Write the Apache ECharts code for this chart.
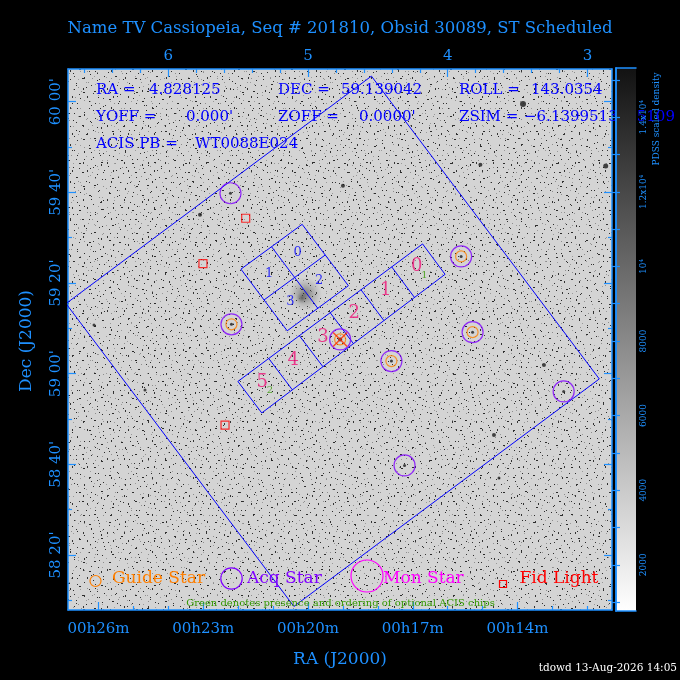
<!DOCTYPE html>
<html>
<head>
<meta charset="utf-8">
<script src="https://cdn.jsdelivr.net/npm/echarts@6/dist/echarts.min.js"></script>
<style>
html, body { margin: 0; padding: 0; background: #000; }
#chart { width: 680px; height: 680px; }
</style>
</head>
<body>
<div id="chart"></div>
<script>
// axis ranges (RA in degrees, Dec in degrees)
const RA_MIN = 2.824, RA_MAX = 6.718;
const DEC_MIN = 58.131, DEC_MAX = 60.12;
const CB_MIN = 760, CB_MAX = 15320;

// tick values and labels
const raDegTicks = [6, 5, 4, 3];
const raDegLabels = ['6', '5', '4', '3'];
const raDegMinor = [6.6, 6.4, 6.2, 5.8, 5.6, 5.4, 5.2, 4.8, 4.6, 4.4, 4.2, 3.8, 3.6, 3.4, 3.2];
const raHmsTicks = [6.5, 5.75, 5.0, 4.25, 3.5];
const raHmsLabels = ['00h26m', '00h23m', '00h20m', '00h17m', '00h14m'];
const raHmsMinor = [6.25, 6.0, 5.5, 5.25, 4.75, 4.5, 4.0, 3.75, 3.25, 3.0];
const decTicks = [60, 59.6667, 59.3333, 59, 58.6667, 58.3333];
const decLabels = ["60 00'", "59 40'", "59 20'", "59 00'", "58 40'", "58 20'"];
const decMinor = [59.8333, 59.5, 59.1667, 58.8333, 58.5, 58.1667];
const cbLabelValues = [2000, 4000, 6000, 8000, 10000, 12000, 14000];
const cbLabels = ['2000', '4000', '6000', '8000', '10\u2074', '1.2x10\u2074', '1.4x10\u2074'];
const cbTicks = [1000, 2000, 3000, 4000, 5000, 6000, 7000, 8000, 9000, 10000, 11000, 12000, 13000, 14000, 15000];

// field outlines [ra, dec]
const fovOutline = [[4.546, 60.0938], [2.915, 58.9805], [5.101, 58.1441], [6.732, 59.2574], [4.546, 60.0938]];
const acisIOutline = [[5.042, 59.5489], [4.711, 59.3232], [5.149, 59.1574], [5.480, 59.3842], [5.042, 59.5489]];
const acisIDividers = [
    [[4.877, 59.4360], [5.315, 59.2708]],
    [[5.261, 59.4665], [4.930, 59.2403]]
];
const acisSOutline = [[5.502, 58.9713], [4.180, 59.4768], [4.019, 59.3651], [5.331, 58.8555], [5.502, 58.9713]];
const acisSDividers = [
    [[5.281, 59.0555], [5.112, 58.9404]],
    [[5.062, 59.1397], [4.893, 59.0254]],
    [[4.841, 59.2239], [4.675, 59.1103]],
    [[4.621, 59.3085], [4.457, 59.1952]],
    [[4.401, 59.3926], [4.238, 59.2801]]
];

// chip labels
const acisINames = ['0', '1', '2', '3'];
const acisIPos = [[5.075, 59.4467], [5.279, 59.3676], [4.921, 59.3426], [5.126, 59.2640]];
const acisSNames = ['0', '1', '2', '3', '4', '5'];
const acisSPos = [[4.222, 59.3930], [4.444, 59.3074], [4.669, 59.2217], [4.893, 59.1335], [5.105, 59.0500], [5.327, 58.9680]];
const optNames = ['1', '2'];
const optPos = [[4.167, 59.3625], [5.272, 58.9371]];

// stars
const guideStars = [[3.904, 59.4309], [5.548, 59.1813], [3.822, 59.1526], [4.403, 59.0460], [4.770, 59.1257]];
const acqStars = [[3.904, 59.4309], [5.548, 59.1813], [3.822, 59.1526], [4.403, 59.0460], [4.770, 59.1257],
    [5.555, 59.6632], [3.170, 58.9346], [4.309, 58.6625]];
const fidLights = [[5.446, 59.5713], [5.752, 59.4044], [5.594, 58.8110]];
const targetPos = [[4.770, 59.1257]];
// field stars [ra, dec, size]
const fieldStars = [[3.461, 59.9912, 6], [2.869, 59.7632, 5], [4.750, 59.6908, 4], [3.766, 59.7684, 4],
    [5.773, 59.5846, 4], [6.532, 59.1787, 3], [6.167, 58.9397, 3], [3.669, 58.7743, 4],
    [3.311, 59.0316, 4], [3.633, 58.6162, 3], [3.904, 59.4309, 3], [5.548, 59.1813, 3],
    [3.822, 59.1526, 3], [4.403, 59.0460, 3], [4.770, 59.1257, 4], [5.555, 59.6632, 3],
    [3.170, 58.9346, 3], [4.309, 58.6625, 3]];
const galaxy = [[5.021, 59.2926, 34], [5.043, 59.2779, 12]];

// header texts: [text, x, y]
const infoTexts = [
    ['RA =', 96, 90], ['4.828125', 149, 90],
    ['DEC =', 278, 90], ['59.139042', 341, 90],
    ['ROLL =', 459, 90], ['143.0354', 531, 90],
    ['YOFF =', 96, 117], ["0.000'", 186, 117],
    ['ZOFF =', 278, 117], ["0.0000'", 359, 117],
    ['ZSIM =', 459, 117], ['\u22126.1399513055109', 524, 117],
    ['ACIS PB =', 96, 144], ['WT0088E024', 195, 144]
];

const AXIS_BLUE = '#1e90ff';
const FONT = 'DejaVu Serif';

function nearest(values, v) {
    let best = 0;
    for (let i = 1; i < values.length; i++) {
        if (Math.abs(values[i] - v) < Math.abs(values[best] - v)) best = i;
    }
    return best;
}

function tickAxis(o) {
    return {
        type: 'value',
        gridIndex: o.grid || 0,
        position: o.position,
        min: o.min,
        max: o.max,
        inverse: !!o.inverse,
        z: o.z || 0,
        axisLine: { show: !!o.line, lineStyle: { color: AXIS_BLUE, width: 1.5 } },
        axisTick: {
            show: true,
            inside: true,
            length: o.len,
            customValues: o.ticks,
            lineStyle: { color: AXIS_BLUE, width: 1.2 }
        },
        axisLabel: o.labels ? Object.assign({
            show: true,
            customValues: o.labelValues,
            color: AXIS_BLUE,
            fontFamily: FONT,
            fontSize: 15,
            formatter: function (v) {
                return o.labels[nearest(o.labelValues, v)];
            }
        }, o.labelOpt || {}) : { show: false },
        splitLine: { show: false }
    };
}

// speckle fill for the sky image (two tiles of different size laid over each other)
const speckDark = [[3, 5], [11, 2], [19, 9], [27, 4], [36, 7], [45, 3], [50, 12], [7, 15], [15, 19], [24, 14],
    [31, 18], [40, 16], [48, 21], [2, 25], [10, 29], [20, 26], [29, 31], [37, 27], [44, 33], [51, 29],
    [6, 37], [14, 41], [23, 36], [33, 40], [41, 44], [49, 38], [4, 45], [17, 32], [26, 22], [38, 11],
    [13, 7], [42, 24], [30, 45], [21, 42], [47, 14]];
const speckGray = [[8, 9], [22, 3], [34, 24], [46, 9], [12, 35], [28, 44], [42, 37], [1, 19], [18, 14],
    [31, 6], [39, 31], [50, 45], [9, 22], [25, 40], [44, 25], [35, 35], [16, 26], [5, 31]];
const speckDark2 = [[2, 3], [9, 11], [17, 5], [25, 14], [33, 2], [38, 20], [5, 22], [13, 29], [21, 24], [29, 33],
    [36, 29], [7, 34], [19, 16], [27, 7], [35, 11], [1, 14], [11, 19], [23, 31], [31, 22], [15, 36]];
const speckGray2 = [[4, 8], [12, 2], [20, 12], [28, 27], [37, 5], [8, 27], [16, 21], [24, 3], [32, 15], [39, 34]];

const tile = document.createElement('canvas');
tile.width = 53;
tile.height = 47;
const tctx = tile.getContext('2d');
tctx.fillStyle = '#d4d4d4';
tctx.fillRect(0, 0, 53, 47);
tctx.fillStyle = '#8e8e8e';
speckGray.forEach(function (p) { tctx.fillRect(p[0], p[1], 1, 1); });
tctx.fillStyle = '#2a2a2a';
speckDark.forEach(function (p, i) { tctx.fillRect(p[0], p[1], i % 4 === 0 ? 2 : 1, 1); });

const tile2 = document.createElement('canvas');
tile2.width = 41;
tile2.height = 37;
const tctx2 = tile2.getContext('2d');
tctx2.fillStyle = '#9a9a9a';
speckGray2.forEach(function (p) { tctx2.fillRect(p[0], p[1], 1, 1); });
tctx2.fillStyle = '#333333';
speckDark2.forEach(function (p, i) { tctx2.fillRect(p[0], p[1], 1, i % 3 === 0 ? 2 : 1); });

function textEl(text, x, y, color, size, align, rotation) {
    return {
        type: 'text',
        x: x,
        y: y,
        rotation: rotation || 0,
        z: 10,
        silent: true,
        style: {
            text: text,
            fill: color,
            fontFamily: FONT,
            fontSize: size,
            textAlign: align || 'left',
            verticalAlign: 'middle'
        }
    };
}

function labelSeries(names, pos, color, size) {
    return {
        type: 'scatter',
        symbol: 'circle',
        symbolSize: 1,
        itemStyle: { color: 'rgba(0,0,0,0)' },
        z: 6,
        silent: true,
        label: {
            show: true,
            position: 'inside',
            formatter: '{b}',
            color: color,
            fontFamily: FONT,
            fontSize: size
        },
        data: names.map(function (n, i) { return { name: n, value: pos[i] }; })
    };
}

const graphics = [
    { type: 'rect', z: -10, silent: true, shape: { x: 68, y: 69, width: 544, height: 541 },
        style: { fill: { image: tile, repeat: 'repeat' } } },
    { type: 'rect', z: -9, silent: true, shape: { x: 68, y: 69, width: 544, height: 541 },
        style: { fill: { image: tile2, repeat: 'repeat' } } },
    { type: 'rect', z: 20, silent: true, shape: { x: 616, y: 68, width: 20, height: 543 },
        style: { fill: { type: 'linear', x: 0, y: 0, x2: 0, y2: 1,
            colorStops: [{ offset: 0, color: '#121212' }, { offset: 1, color: '#ffffff' }] } } },
    textEl('Name TV Cassiopeia, Seq # 201810, Obsid 30089, ST Scheduled', 340, 29, AXIS_BLUE, 16.5, 'center'),
    textEl('RA (J2000)', 340, 660, AXIS_BLUE, 17, 'center'),
    textEl('Dec (J2000)', 27, 341, AXIS_BLUE, 17, 'center', Math.PI / 2),
    textEl('PDSS scaled density', 657, 119, AXIS_BLUE, 9, 'center', Math.PI / 2),
    textEl('tdowd 13-Aug-2026 14:05', 677, 668, '#ffffff', 10.5, 'right'),
    // legend
    { type: 'circle', z: 10, silent: true, shape: { cx: 95.5, cy: 581, r: 5.5 }, style: { fill: 'none', stroke: '#ff7f00', lineWidth: 1.2 } },
    textEl('Guide Star', 112, 579, '#ff7f00', 17),
    { type: 'circle', z: 10, silent: true, shape: { cx: 231.5, cy: 578.5, r: 10.7 }, style: { fill: 'none', stroke: '#8000ff', lineWidth: 1.2 } },
    textEl('Acq Star', 247, 579, '#8000ff', 17),
    { type: 'circle', z: 10, silent: true, shape: { cx: 367, cy: 576, r: 16 }, style: { fill: 'none', stroke: '#ff00ff', lineWidth: 1.2 } },
    textEl('Mon Star', 383, 579, '#ff00ff', 17),
    { type: 'rect', z: 10, silent: true, shape: { x: 499.5, y: 580.5, width: 7, height: 7 }, style: { fill: 'none', stroke: '#ff0000', lineWidth: 1.2 } },
    textEl('Fid Light', 519.5, 579, '#ff0000', 17),
    textEl('Green denotes presence and ordering of optional ACIS chips', 340.5, 603, '#339900', 10, 'center')
];
infoTexts.forEach(function (t) {
    graphics.push(textEl(t[0], t[1], t[2], '#0000ff', 15));
});

const option = {
    backgroundColor: '#000000',
    animation: false,
    grid: [
        { left: 68, top: 69, width: 544, height: 541 },
        { left: 616, top: 68, width: 20, height: 543 }
    ],
    xAxis: [
        tickAxis({ position: 'bottom', min: RA_MIN, max: RA_MAX, inverse: true, line: true, len: 8,
            ticks: raHmsTicks, labels: raHmsLabels, labelValues: raHmsTicks, labelOpt: { margin: 12 } }),
        tickAxis({ position: 'bottom', min: RA_MIN, max: RA_MAX, inverse: true, len: 4, ticks: raHmsMinor }),
        tickAxis({ position: 'top', min: RA_MIN, max: RA_MAX, inverse: true, line: true, len: 8,
            ticks: raDegTicks, labels: raDegLabels, labelValues: raDegTicks, labelOpt: { margin: 5 } }),
        tickAxis({ position: 'top', min: RA_MIN, max: RA_MAX, inverse: true, len: 4, ticks: raDegMinor }),
        { type: 'value', gridIndex: 1, position: 'bottom', min: 0, max: 1, z: 30,
            axisLine: { show: true, lineStyle: { color: AXIS_BLUE, width: 1.5 } },
            axisTick: { show: false }, axisLabel: { show: false }, splitLine: { show: false } },
        { type: 'value', gridIndex: 1, position: 'top', min: 0, max: 1, z: 30,
            axisLine: { show: true, lineStyle: { color: AXIS_BLUE, width: 1.5 } },
            axisTick: { show: false }, axisLabel: { show: false }, splitLine: { show: false } }
    ],
    yAxis: [
        tickAxis({ position: 'left', min: DEC_MIN, max: DEC_MAX, line: true, len: 8,
            ticks: decTicks, labels: decLabels, labelValues: decTicks, labelOpt: { rotate: 90, margin: 4 } }),
        tickAxis({ position: 'left', min: DEC_MIN, max: DEC_MAX, len: 4, ticks: decMinor }),
        tickAxis({ position: 'right', min: DEC_MIN, max: DEC_MAX, line: true, len: 8, ticks: decTicks }),
        tickAxis({ position: 'right', min: DEC_MIN, max: DEC_MAX, len: 4, ticks: decMinor }),
        tickAxis({ grid: 1, position: 'right', min: CB_MIN, max: CB_MAX, line: true, len: 4, z: 30,
            ticks: cbTicks, labels: cbLabels, labelValues: cbLabelValues,
            labelOpt: { rotate: 90, margin: 3, fontSize: 9 } }),
        tickAxis({ grid: 1, position: 'left', min: CB_MIN, max: CB_MAX, line: true, len: 4, z: 30, ticks: cbTicks })
    ],
    graphic: { elements: graphics },
    series: [
        {
            type: 'scatter',
            name: 'galaxy',
            silent: true,
            z: 1,
            symbolSize: function (v) { return v[2]; },
            itemStyle: {
                color: { type: 'radial', x: 0.5, y: 0.5, r: 0.5,
                    colorStops: [{ offset: 0, color: 'rgba(50,50,50,0.7)' }, { offset: 1, color: 'rgba(110,110,110,0)' }] }
            },
            data: galaxy
        },
        {
            type: 'scatter',
            name: 'stars',
            silent: true,
            z: 1,
            symbolSize: function (v) { return v[2]; },
            itemStyle: { color: '#1a1a1a' },
            data: fieldStars
        },
        {
            type: 'lines',
            coordinateSystem: 'cartesian2d',
            polyline: true,
            silent: true,
            z: 3,
            lineStyle: { color: '#0000ff', width: 1, opacity: 1 },
            data: [{ coords: fovOutline }, { coords: acisIOutline }, { coords: acisSOutline }]
                .concat(acisIDividers.map(function (c) { return { coords: c }; }))
                .concat(acisSDividers.map(function (c) { return { coords: c }; }))
        },
        {
            type: 'scatter',
            name: 'Guide Star',
            silent: true,
            z: 5,
            symbol: 'circle',
            symbolSize: 11,
            itemStyle: { color: 'rgba(0,0,0,0)', borderColor: '#ff7f00', borderWidth: 1.2 },
            data: guideStars
        },
        {
            type: 'scatter',
            name: 'Acq Star',
            silent: true,
            z: 5,
            symbol: 'circle',
            symbolSize: 21,
            itemStyle: { color: 'rgba(0,0,0,0)', borderColor: '#8000ff', borderWidth: 1.2 },
            data: acqStars
        },
        {
            type: 'scatter',
            name: 'Fid Light',
            silent: true,
            z: 5,
            symbol: 'rect',
            symbolSize: 8,
            itemStyle: { color: 'rgba(0,0,0,0)', borderColor: '#ff0000', borderWidth: 1.2 },
            data: fidLights
        },
        {
            type: 'scatter',
            name: 'target',
            silent: true,
            z: 5,
            symbol: 'path://M0 0L10 10M10 0L0 10',
            symbolSize: 14,
            itemStyle: { color: 'none', borderColor: '#ff2a00', borderWidth: 1.5 },
            data: targetPos
        },
        labelSeries(acisINames, acisIPos, '#0000ff', 13),
        labelSeries(acisSNames, acisSPos, '#ee1177', 18),
        labelSeries(optNames, optPos, '#339900', 10)
    ]
};

let chart = echarts.init(document.getElementById('chart'));
chart.setOption(option);
</script>
</body>
</html>
